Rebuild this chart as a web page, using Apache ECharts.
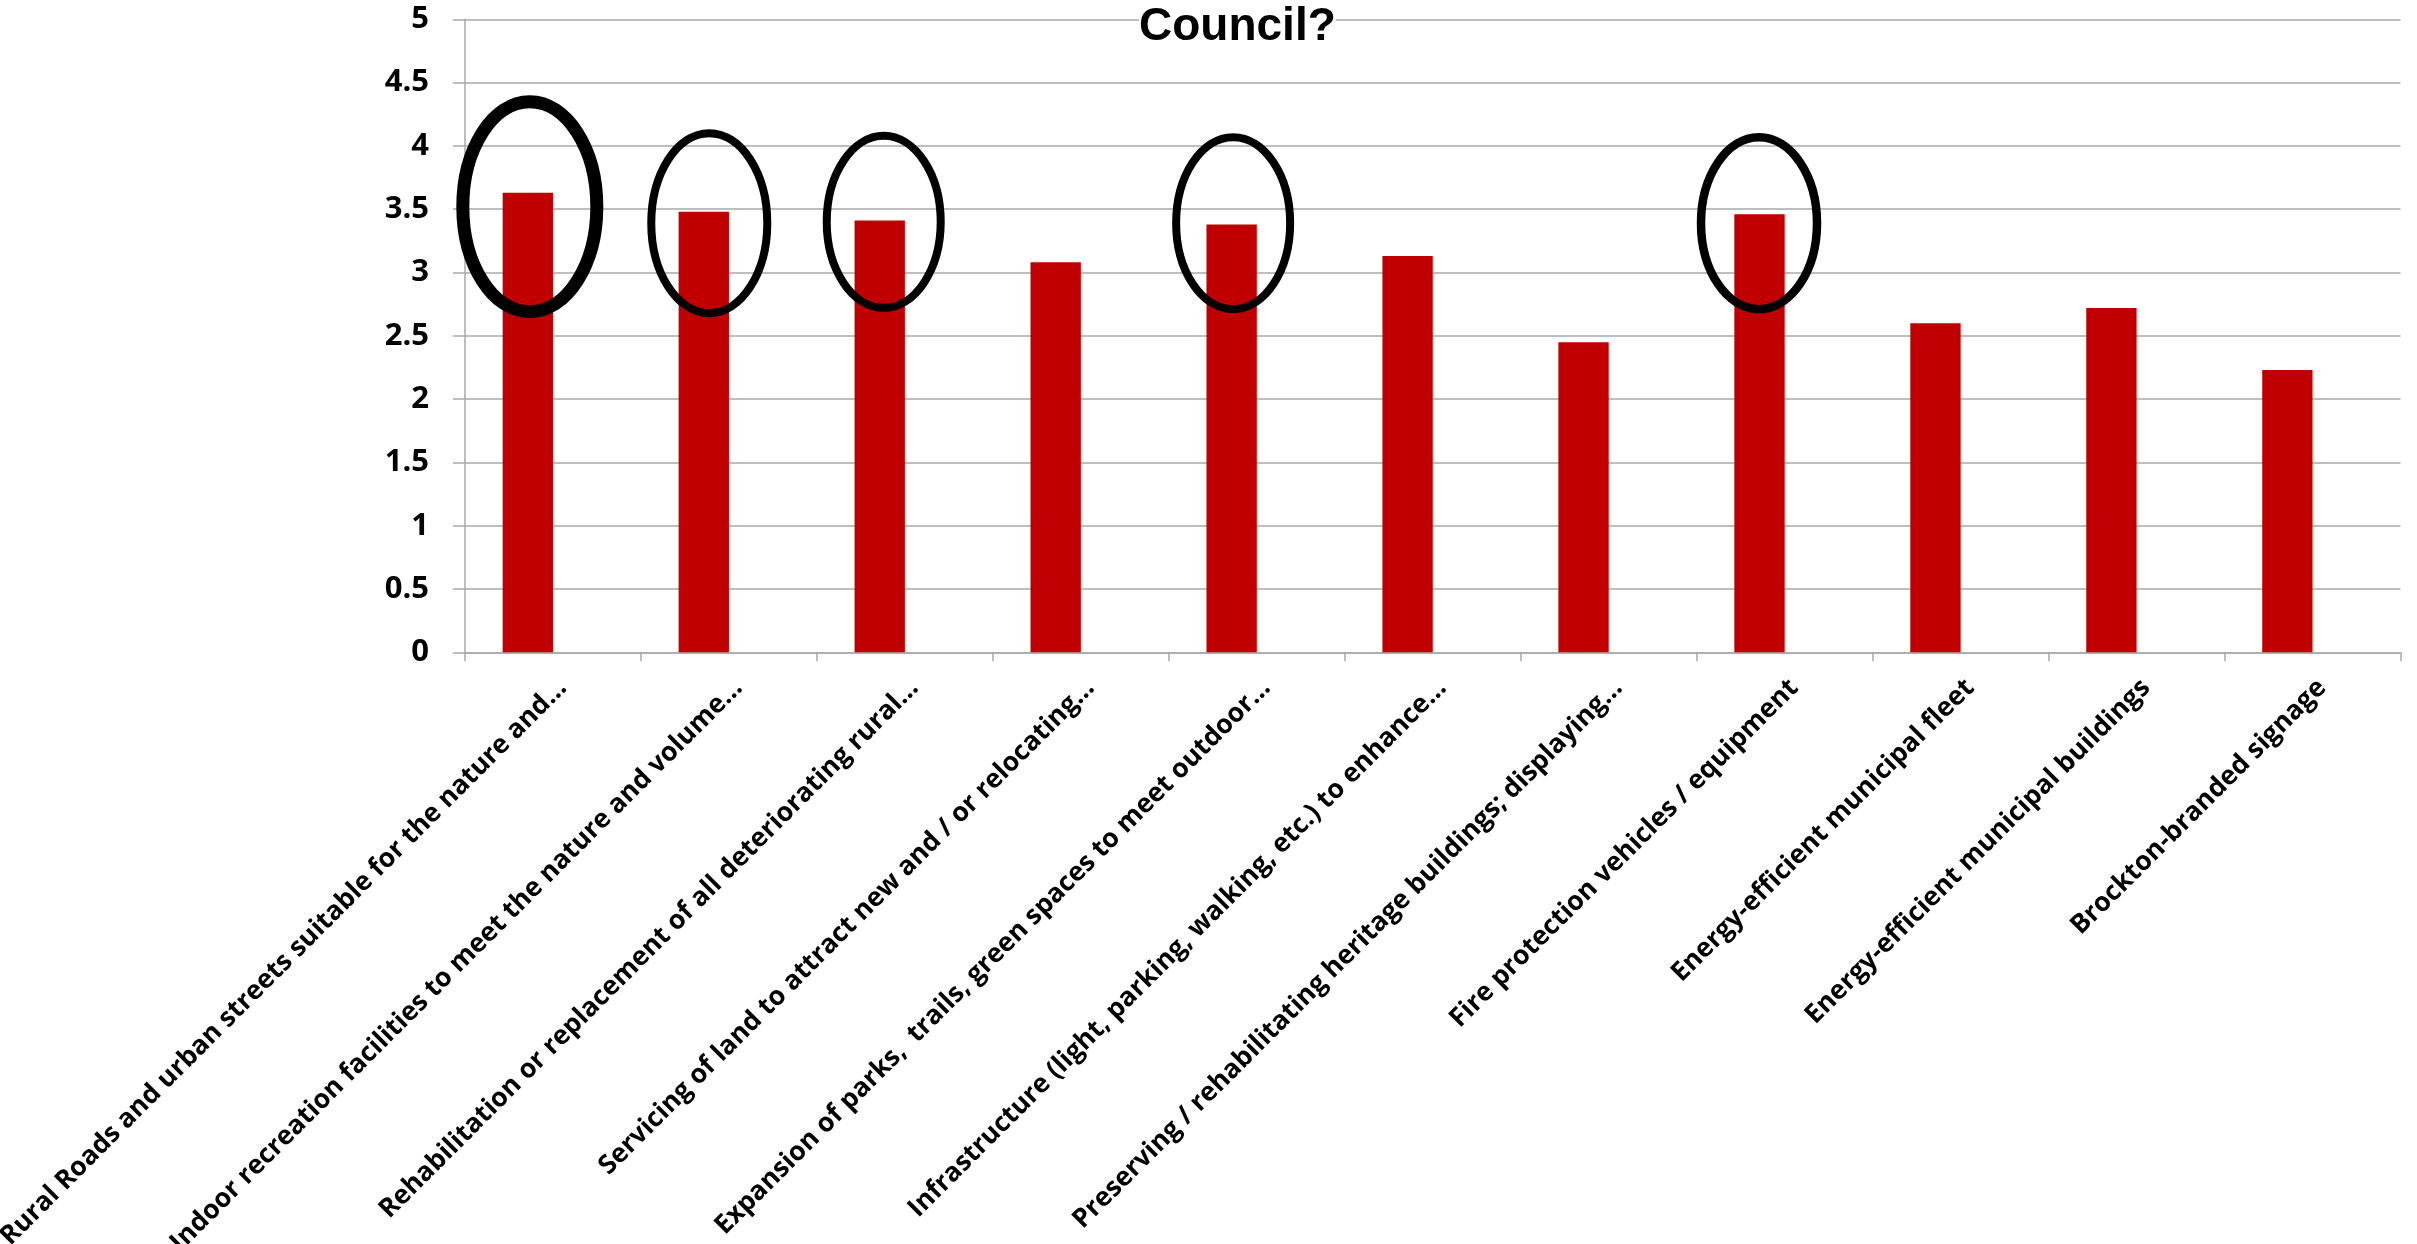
<!DOCTYPE html>
<html>
<head>
<meta charset="utf-8">
<style>
  html, body { margin: 0; padding: 0; background: #fff; }
  #chart { width: 2417px; height: 1244px; }
</style>
<script src="https://cdn.jsdelivr.net/npm/echarts@6/dist/echarts.min.js"></script>
</head>
<body>
<div id="chart"></div>
<script>
// Priority categories (labels are shortened as shown on the axis)
const categories = [
  'Rural Roads and urban streets suitable for the nature and…',
  'Indoor recreation facilities to meet the nature and volume…',
  'Rehabilitation or replacement of all deteriorating rural…',
  'Servicing of land to attract new and / or relocating…',
  'Expansion of parks,  trails, green spaces to meet outdoor…',
  'Infrastructure (light, parking, walking, etc.) to enhance…',
  'Preserving / rehabilitating heritage buildings; displaying…',
  'Fire protection vehicles / equipment',
  'Energy-efficient municipal fleet',
  'Energy-efficient municipal buildings',
  'Brockton-branded signage'
];

// Average rating per category
const scores = [3.63, 3.48, 3.41, 3.08, 3.38, 3.13, 2.45, 3.46, 2.60, 2.72, 2.23];

// Value axis range and step
const yMin = 0;
const yMax = 5;
const yStep = 0.5;

// Categories that are ringed by hand-drawn ellipses
const circled = [0, 1, 2, 4, 7];

// Ellipse outline for each ringed category: centre height (axis units),
// horizontal nudge, radii and pen width in pixels
const ringShape = {
  0: { centre: 3.52, dx: 2,   rx: 67, ry: 105, pen: 13 },
  1: { centre: 3.39, dx: 5.5, rx: 58, ry: 90,  pen: 8 },
  2: { centre: 3.40, dx: 4,   rx: 57, ry: 86,  pen: 8 },
  4: { centre: 3.39, dx: 1.5, rx: 57, ry: 86,  pen: 8 },
  7: { centre: 3.39, dx: -0.5, rx: 58, ry: 86, pen: 8.5 }
};

const GAP = 0.428;          // share of each category left empty around the bars
const GRID_GREY = '#a9a9a9';
const LABEL_FONT = '"Open Sans", "Noto Sans", sans-serif';

const chart = echarts.init(document.getElementById('chart'), null, { renderer: 'canvas' });

chart.setOption({
  animation: false,
  backgroundColor: '#ffffff',
  title: {
    text: 'Council?',
    left: 1139,
    top: 4,
    padding: 0,
    backgroundColor: '#ffffff',
    textStyle: {
      fontFamily: '"Liberation Sans", Arial, sans-serif',
      fontWeight: 'bold',
      fontSize: 46,
      color: '#000'
    },
    z: 10
  },
  grid: {
    left: 465,
    right: 16.5,
    top: 19.3,
    bottom: 591.7,
    containLabel: false,
    outerBoundsMode: 'none'
  },
  xAxis: {
    type: 'category',
    data: categories,
    axisLine: { show: true, lineStyle: { color: GRID_GREY, width: 1.5 } },
    axisTick: { show: true, length: 9, lineStyle: { color: GRID_GREY, width: 1.5 } },
    axisLabel: {
      interval: 0,
      rotate: 45,
      margin: 22,
      verticalAlign: 'top',
      lineHeight: 26.5,
      hideOverlap: false,
      fontFamily: LABEL_FONT,
      fontWeight: 'bold',
      fontSize: 26.5,
      color: '#000'
    },
    splitLine: { show: false }
  },
  yAxis: {
    type: 'value',
    min: yMin,
    max: yMax,
    interval: yStep,
    axisLine: { show: true, lineStyle: { color: GRID_GREY, width: 1.5 } },
    axisTick: { show: true, length: 12, lineStyle: { color: GRID_GREY, width: 1.5 } },
    axisLabel: {
      margin: 36,
      fontFamily: LABEL_FONT,
      fontWeight: 'bold',
      fontSize: 31,
      color: '#000'
    },
    splitLine: { show: true, lineStyle: { color: GRID_GREY, width: 1.5 } }
  },
  series: [
    {
      name: 'Rating',
      type: 'bar',
      data: scores,
      barGap: '0%',
      barCategoryGap: (GAP * 100) + '%',
      itemStyle: { color: '#c00000' },
      z: 2
    },
    {
      // second (empty) column slot of each category
      name: 'Spare',
      type: 'bar',
      data: [],
      z: 2
    },
    {
      name: 'Rings',
      type: 'custom',
      clip: false,
      z: 5,
      encode: { x: 0, y: 1 },
      data: circled.map(i => [i, ringShape[i].centre]),
      renderItem: function (params, api) {
        const idx = api.value(0);
        const r = ringShape[idx];
        const c = api.coord([idx, api.value(1)]);
        const band = api.size([1, 0])[0];
        const barShift = -band * (1 - GAP) / 4;
        return {
          type: 'ellipse',
          shape: { cx: c[0] + barShift + r.dx, cy: c[1], rx: r.rx, ry: r.ry },
          style: { fill: 'none', stroke: '#000', lineWidth: r.pen }
        };
      }
    }
  ]
});
</script>
</body>
</html>
